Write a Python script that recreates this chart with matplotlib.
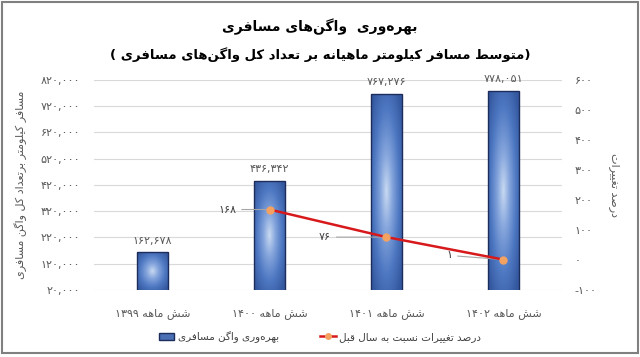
import re

import matplotlib
matplotlib.use("Agg")
import matplotlib.pyplot as plt
import numpy as np
from matplotlib.colors import LinearSegmentedColormap
from matplotlib.lines import Line2D
from matplotlib.patches import Patch, Rectangle

# ---- data ----
categories = ["شش ماهه ۱۳۹۹", "شش ماهه ۱۴۰۰", "شش ماهه ۱۴۰۱", "شش ماهه ۱۴۰۲"]
productivity = [162678, 436342, 767276, 778051]
pct_change = [None, 168, 76, 1]
left_ticks = [20000, 120000, 220000, 320000, 420000, 520000, 620000, 720000, 820000]
right_ticks = [-100, 0, 100, 200, 300, 400, 500, 600]

title = "بهره‌وری  واگن‌های مسافری"
subtitle = "(متوسط مسافر کیلومتر ماهیانه بر تعداد کل واگن‌های مسافری )"
left_label = "مسافر کیلومتر برتعداد کل واگن مسافری"
right_label = "درصد تغییرات"
bar_name = "بهره‌وری واگن مسافری"
line_name = "درصد تغییرات نسبت به سال قبل"

# ---- minimal Persian shaping + right-to-left ordering (no bidi libs here) ----
# letter: (isolated, final, initial, medial); initial None -> joins only to the right
FORMS = {
    "ا": ("\uFE8D", "\uFE8E", None, None),
    "آ": ("\uFE81", "\uFE82", None, None),
    "ب": ("\uFE8F", "\uFE90", "\uFE91", "\uFE92"),
    "پ": ("\uFB56", "\uFB57", "\uFB58", "\uFB59"),
    "ت": ("\uFE95", "\uFE96", "\uFE97", "\uFE98"),
    "ج": ("\uFE9D", "\uFE9E", "\uFE9F", "\uFEA0"),
    "چ": ("\uFB7A", "\uFB7B", "\uFB7C", "\uFB7D"),
    "ح": ("\uFEA1", "\uFEA2", "\uFEA3", "\uFEA4"),
    "خ": ("\uFEA5", "\uFEA6", "\uFEA7", "\uFEA8"),
    "د": ("\uFEA9", "\uFEAA", None, None),
    "ذ": ("\uFEAB", "\uFEAC", None, None),
    "ر": ("\uFEAD", "\uFEAE", None, None),
    "ز": ("\uFEAF", "\uFEB0", None, None),
    "ژ": ("\uFB8A", "\uFB8B", None, None),
    "س": ("\uFEB1", "\uFEB2", "\uFEB3", "\uFEB4"),
    "ش": ("\uFEB5", "\uFEB6", "\uFEB7", "\uFEB8"),
    "ص": ("\uFEB9", "\uFEBA", "\uFEBB", "\uFEBC"),
    "ط": ("\uFEC1", "\uFEC2", "\uFEC3", "\uFEC4"),
    "ع": ("\uFEC9", "\uFECA", "\uFECB", "\uFECC"),
    "غ": ("\uFECD", "\uFECE", "\uFECF", "\uFED0"),
    "ف": ("\uFED1", "\uFED2", "\uFED3", "\uFED4"),
    "ق": ("\uFED5", "\uFED6", "\uFED7", "\uFED8"),
    "ک": ("\uFB8E", "\uFB8F", "\uFB90", "\uFB91"),
    "گ": ("\uFB92", "\uFB93", "\uFB94", "\uFB95"),
    "ل": ("\uFEDD", "\uFEDE", "\uFEDF", "\uFEE0"),
    "م": ("\uFEE1", "\uFEE2", "\uFEE3", "\uFEE4"),
    "ن": ("\uFEE5", "\uFEE6", "\uFEE7", "\uFEE8"),
    "ه": ("\uFEE9", "\uFEEA", "\uFEEB", "\uFEEC"),
    "و": ("\uFEED", "\uFEEE", None, None),
    "ی": ("\uFBFC", "\uFBFD", "\uFBFE", "\uFBFF"),
}
MIRROR = str.maketrans("()", ")(")
FA_DIGITS = str.maketrans("0123456789", "۰۱۲۳۴۵۶۷۸۹")


def shape(s):
    out = []
    for i, ch in enumerate(s):
        if ch not in FORMS:
            out.append(ch)
            continue
        prev = s[i - 1] if i > 0 else None
        nxt = s[i + 1] if i < len(s) - 1 else None
        jp = prev in FORMS and FORMS[prev][2] is not None
        jn = nxt in FORMS and FORMS[ch][2] is not None
        iso, fin, ini, med = FORMS[ch]
        out.append(med if jp and jn else fin if jp else ini if jn else iso)
    return "".join(out).replace("\u200c", "")


def rtl(s):
    toks = re.findall(r"[0-9۰-۹][0-9۰-۹,.]*|[^0-9۰-۹]+", shape(s))
    return "".join(t if t[0].isdigit() else t[::-1].translate(MIRROR)
                   for t in reversed(toks))


def fa(n):
    return f"{n:,}".translate(FA_DIGITS)


plt.rcParams["font.family"] = ["DejaVu Sans"]
GREY = "#595959"

fig = plt.figure(figsize=(6.4, 3.57), dpi=100)
ax = fig.add_axes([0.147, 0.188, 0.731, 0.588])
ax2 = ax.twinx()

x = np.arange(len(categories))
w = 0.26

# bars with a radial highlight, like the Excel gradient fill
cmap = LinearSegmentedColormap.from_list(
    "bargrad", [(0, "#c9daf2"), (0.3, "#85a5dc"), (0.65, "#4e78c2"), (1, "#34589f")])
y0 = left_ticks[0]
bars = ax.bar(x, productivity, w, color="#34589f", zorder=2)
yy, xx = np.mgrid[-1:1:160j, -1:1:40j]
rad = np.clip(np.sqrt(xx ** 2 + yy ** 2) / 1.3, 0, 1)
for b, v in zip(bars, productivity):
    im = ax.imshow(rad, cmap=cmap, extent=(b.get_x(), b.get_x() + w, y0, v),
                   aspect="auto", zorder=2.2, origin="lower", vmin=0, vmax=1)
    im.set_clip_path(b)
ax.bar(x, productivity, w, fill=False, edgecolor="#1c2d5c", lw=1.0, zorder=2.4)

for xi, v in zip(x, productivity):
    ax.annotate(fa(v), (xi, v), xytext=(0, 5), textcoords="offset points",
                ha="center", va="bottom", fontsize=8, color=GREY)

ax.set_xlim(-0.5, len(categories) - 0.5)
ax.set_ylim(left_ticks[0], left_ticks[-1])
ax.set_yticks(left_ticks)
ax.set_yticklabels([fa(t) for t in left_ticks])
ax.set_xticks(x)
ax.set_xticklabels([rtl(c) for c in categories])
ax.tick_params(axis="y", length=0, pad=10, labelsize=8, labelcolor=GREY)
ax.tick_params(axis="x", length=0, pad=13, labelsize=8, labelcolor=GREY)
ax.grid(axis="y", color="#d9d9d9", lw=0.8)
ax.set_axisbelow(True)
ax.set_ylabel(rtl(left_label), fontsize=8, color=GREY)
ax.yaxis.set_label_coords(-0.143, 0.5)

# percent change line on the right axis
pc = np.array([np.nan if v is None else v for v in pct_change], dtype=float)
ax2.plot(x, pc, color="#d7191c", lw=1.8, marker="o", ms=5,
         mfc="#f4a261", mec="#f4a261", zorder=5)
label_off = [None, (-24, 0), (-40, 0), (-37, 3)]
for xi, v, off in zip(x, pct_change, label_off):
    if v is None:
        continue
    ax2.annotate(fa(v), (xi, v), xytext=off, textcoords="offset points",
                 ha="right", va="center", fontsize=8, color="#404040",
                 arrowprops=dict(arrowstyle="-", color="#a6a6a6", lw=0.8,
                                 shrinkA=2, shrinkB=1))
ax2.set_ylim(right_ticks[0], right_ticks[-1])
ax2.set_yticks(right_ticks)
ax2.set_yticklabels([fa(t) for t in right_ticks])
ax2.tick_params(axis="y", length=0, pad=9, labelsize=8, labelcolor=GREY)
ax2.set_ylabel(rtl(right_label), fontsize=8, color=GREY, rotation=-90, va="center")
ax2.yaxis.set_label_coords(1.113, 0.5)

for a in (ax, ax2):
    for s in a.spines.values():
        s.set_visible(False)

fig.text(0.5, 1 - 27 / 357, rtl(title), ha="center", va="center",
         fontsize=10, fontweight="bold")
fig.text(0.5, 1 - 55 / 357, rtl(subtitle), ha="center", va="center",
         fontsize=9.5, fontweight="bold")

handles = [Patch(facecolor="#4a6fb5", edgecolor="#1c2d5c"),
           Line2D([], [], color="#d7191c", lw=1.8, marker="o", ms=4,
                  mfc="#f4a261", mec="#f4a261")]
fig.legend(handles, [rtl(bar_name), rtl(line_name)], loc="center",
           bbox_to_anchor=(0.5, 1 - 337 / 357), ncol=2, frameon=False,
           fontsize=7.5, labelcolor="#404040", handlelength=1.5,
           handletextpad=0.3, columnspacing=4)

fig.patches.append(Rectangle((0.003, 0.012), 0.994, 0.982, transform=fig.transFigure,
                             fill=False, edgecolor="#808080", lw=1.5))

fig.savefig("out.png", dpi=100)
